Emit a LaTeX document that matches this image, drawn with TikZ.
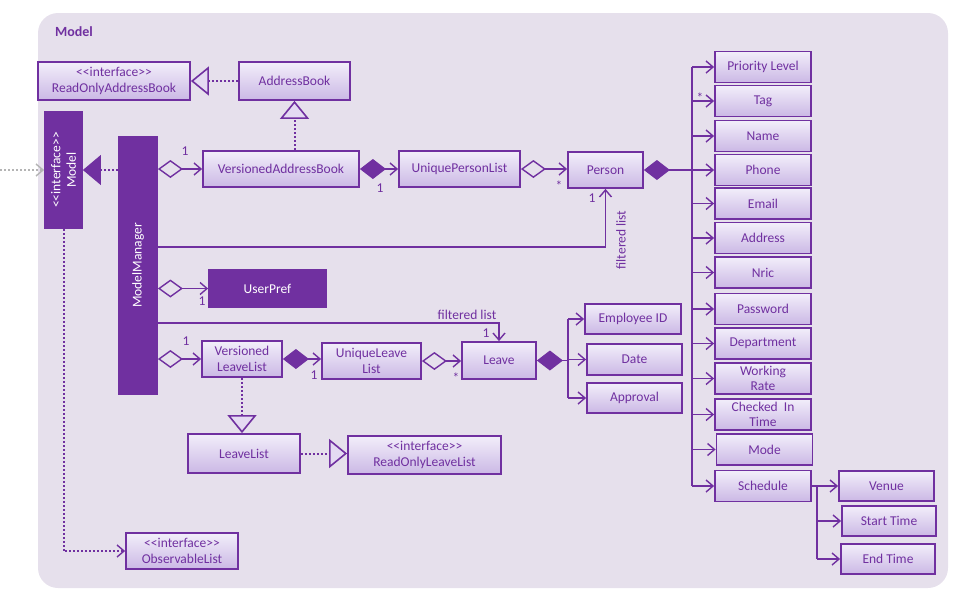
\documentclass[tikz,border=0pt]{standalone}
\usepackage{fontspec}
\setmainfont{Carlito}[Ligatures=TeXOff]
\usetikzlibrary{arrows.meta}
\definecolor{pur}{HTML}{7030A0}
\definecolor{bgc}{HTML}{E6E0EC}
\definecolor{btop}{HTML}{F2EEFA}
\definecolor{bbot}{HTML}{CBB8E5}
\definecolor{trif}{HTML}{E4DAF2}
\definecolor{gryc}{HTML}{B4B4B4}
\newcommand\umlfont{\fontsize{13.5}{15.5}\selectfont}
\tikzset{
  umlbox/.style={draw=pur, line width=1.8pt, top color=btop, bottom color=bbot, text=pur,
     font=\umlfont, align=center, inner sep=0pt},
  darkbox/.style={draw=pur, line width=1.8pt, fill=pur, inner sep=0pt},
  darktxt/.style={text=white, font=\umlfont, align=center, inner sep=0pt},
  conn/.style={draw=pur, line width=1.4pt},
  mybarb/.tip={Straight Barb[length=7pt,width=12pt,line width=1.4pt]},
  graybarb/.tip={Straight Barb[length=7pt,width=12pt,line width=1.4pt,color=gryc]},
  odia/.tip={Diamond[open,fill=bgc,length=25pt,width=18pt,line width=1.4pt]},
  fdia/.tip={Diamond[fill=pur,length=26pt,width=20pt,line width=1pt]},
  otri/.tip={Triangle[open,fill=trif,length=18pt,width=29pt,line width=1.6pt]},
  ftri/.tip={Triangle[fill=pur,length=18pt,width=30pt,line width=1pt]},
  arr/.style={conn,-mybarb},
  agg/.style={conn,odia-mybarb},
  comp/.style={conn,fdia-mybarb},
  dotln/.style={draw=pur,line width=2pt,dash pattern=on 2pt off 2pt},
  real/.style={dotln,-otri},
  lbl/.style={text=pur,font=\umlfont,inner sep=0pt},
}
\newcommand\ubox[6]{\node[umlbox,minimum width=#4pt,minimum height=#5pt] (#1) at (#2,#3) {#6};}
\begin{document}
\begin{tikzpicture}[x=1pt,y=-1pt]
\useasboundingbox (0,0) rectangle (956,603);
\fill[bgc, rounded corners=20pt] (38,13) rectangle (948,588);
\node[text=pur, font=\fontsize{14}{16}\selectfont\bfseries, inner sep=0pt] (title) at (74,32) {Model};

% left part
\ubox{roab}{114}{81}{152}{38}{<<interface>>\\ReadOnlyAddressBook}
\ubox{ab}{294.5}{81}{111}{38}{AddressBook}
\ubox{vab}{281}{169}{156}{36}{VersionedAddressBook}
\ubox{upl}{459.5}{169}{121}{36}{UniquePersonList}
\ubox{person}{605.5}{170}{75}{36}{Person}
\node[darkbox,minimum width=37pt,minimum height=116pt] (model) at (63.5,170) {};
\node[darktxt,rotate=90] (modeltxt) at (model.center) {<<interface>>\\Model};
\node[darkbox,minimum width=38pt,minimum height=257pt] (mm) at (138,265.5) {};
\node[darktxt,rotate=90] (mmtxt) at (mm.center) {ModelManager};
\node[darkbox,minimum width=117pt,minimum height=37pt] (up) at (267.5,288.5) {};
\node[darktxt] (uptxt) at (up.center) {UserPref};
\ubox{vll}{242}{359}{80}{36}{Versioned\\LeaveList}
\ubox{ull}{371.5}{361}{99}{36}{UniqueLeave\\List}
\ubox{leave}{499}{360.5}{74}{37}{Leave}
\ubox{ll}{244}{453.5}{112}{39}{LeaveList}
\ubox{roll}{424.5}{455}{153}{38}{<<interface>>\\ReadOnlyLeaveList}
\ubox{obs}{182}{551}{112}{36}{<<interface>>\\ObservableList}
\ubox{empid}{633}{319}{96}{30}{Employee ID}
\ubox{date}{634.5}{359.5}{95}{31}{Date}
\ubox{appr}{634.5}{398}{95}{30}{Approval}

% right column
\ubox{prio}{763}{67}{96}{31}{Priority Level}
\ubox{tag}{763}{101}{96}{31}{Tag}
\ubox{name}{763}{136}{96}{31}{Name}
\ubox{phone}{763}{170}{96}{31}{Phone}
\ubox{email}{763}{203.5}{96}{31}{Email}
\ubox{addr}{763}{238}{96}{31}{Address}
\ubox{nric}{763}{272.5}{96}{31}{Nric}
\ubox{pwd}{763}{309}{96}{31}{Password}
\ubox{dept}{763}{343.5}{96}{31}{Department}
\ubox{wrate}{763}{378.5}{96}{31}{Working\\Rate}
\ubox{cit}{763}{414.5}{96}{31}{Checked\ \ In\\Time}
\ubox{mode}{764.5}{449.5}{96}{31}{Mode}
\ubox{sched}{763}{486}{96}{31}{Schedule}
\ubox{venue}{886.5}{486}{95}{30}{Venue}
\ubox{start}{889}{521}{94}{30}{Start Time}
\ubox{endt}{888}{559}{94}{30}{End Time}

% coordinates
\coordinate (ext) at (0,170);
\coordinate (fl1) at (0,247);
\coordinate (fl2) at (0,323);
\coordinate (busT) at (692,67);
\coordinate (busB) at (692,486);
\coordinate (lbus) at (568,319);
\coordinate (lbusB) at (568,398);
\coordinate (sbus) at (817,486);
\coordinate (sbusB) at (817,559);

% realizations / generalizations
\draw[real] (ab.west) -- (roab.east);
\draw[real] (ab.south |- vab.north) -- (ab.south);
\draw[dotln,-ftri] (mm.west |- model.east) -- (model.east);
\draw[draw=gryc,line width=2pt,dash pattern=on 2pt off 2pt,-graybarb] (ext) -- (model.west);
\draw[real] (vll.south) -- (vll.south |- ll.north);
\draw[real] (ll.east) -- (ll.east -| roll.west);
\draw[dotln,-mybarb] (model.south) |- (obs.west);

% associations
\draw[agg] (mm.east |- vab.west) -- (vab.west);
\draw[comp] (vab.east) -- (upl.west);
\draw[agg] (upl.east) -- (upl.east -| person.west);
\draw[arr] (mm.east |- fl1) -| (person.south);
\draw[agg] (mm.east |- up.west) -- (up.west);
\draw[arr] (mm.east |- fl2) -| (leave.north);
\draw[agg] (mm.east |- vll.west) -- (vll.west);
\draw[comp] (vll.east) -- (vll.east -| ull.west);
\draw[agg] (ull.east) -- (ull.east -| leave.west);

% person attributes
\draw[conn,fdia-] (person.east) -- (person.east -| busT);
\draw[conn] (busT) -- (busB);
\foreach \n in {prio,tag,name,phone,email,addr,nric,pwd,dept,wrate,cit,mode,sched}
  \draw[arr] (busT |- \n.west) -- (\n.west);

% leave attributes
\draw[conn,fdia-] (leave.east) -- (leave.east -| lbus);
\draw[conn] (lbus) -- (lbusB);
\foreach \n in {empid,date,appr}
  \draw[arr] (lbus |- \n.west) -- (\n.west);

% schedule parts
\draw[conn] (sched.east) -- (sbus) -- (sbusB);
\foreach \n in {venue,start,endt}
  \draw[arr] (sbus |- \n.west) -- (\n.west);

% labels
\node[lbl] (l1) at (185,151) {1};
\node[lbl] (l2) at (380,188) {1};
\node[lbl] (l3) at (559,186) {*};
\node[lbl] (l4) at (592,198) {1};
\node[lbl,rotate=90] (l5) at (621,240) {filtered list};
\node[lbl] (l6) at (700,98) {*};
\node[lbl] (l7) at (202,301) {1};
\node[lbl] (l8) at (467,315) {filtered list};
\node[lbl] (l9) at (486,333) {1};
\node[lbl] (l10) at (186,341) {1};
\node[lbl] (l11) at (314,375) {1};
\node[lbl] (l12) at (456,378) {*};
\end{tikzpicture}
\end{document}
